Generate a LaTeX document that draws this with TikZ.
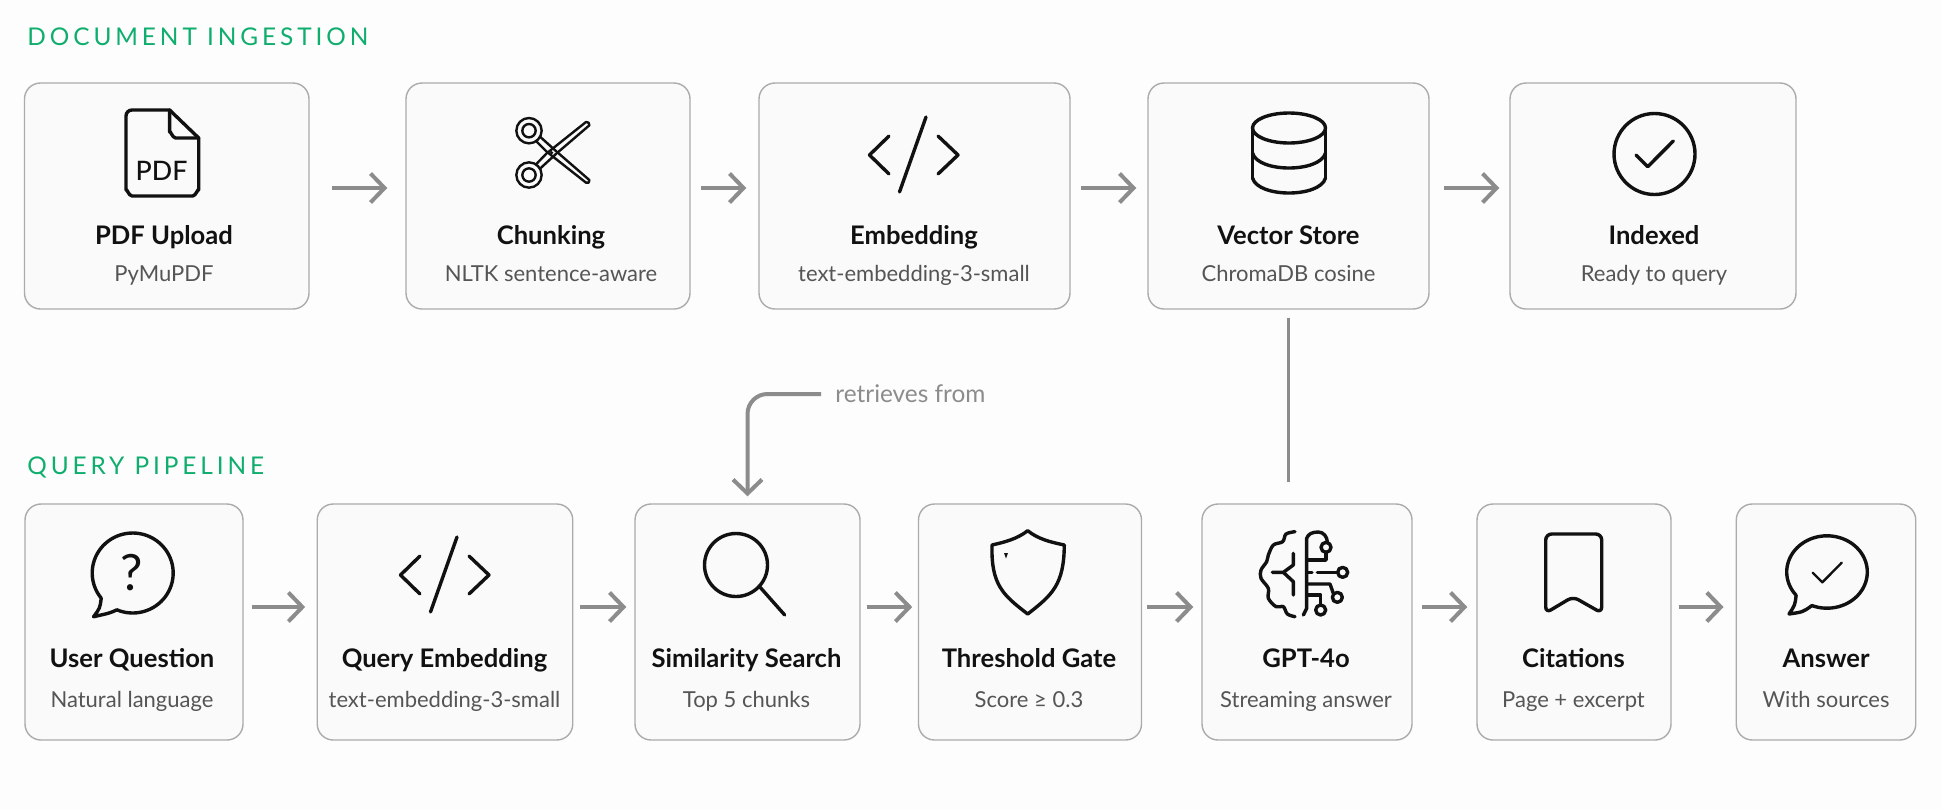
\documentclass[tikz,border=0pt]{standalone}
\usepackage{fontspec}
\usepackage{tikz}
\usetikzlibrary{positioning, arrows.meta, calc}
\setmainfont{Lato}
\newfontfamily\secfont[LetterSpace=16]{Lato}
\newfontfamily\medfont{Lato Medium}

\definecolor{pagebg}{HTML}{FDFDFD}
\definecolor{cardbg}{HTML}{FAFAFA}
\definecolor{cardline}{HTML}{ABABAB}
\definecolor{flowgray}{HTML}{8C8C8C}
\definecolor{secgreen}{HTML}{10AE6E}
\definecolor{inkblack}{HTML}{111111}
\definecolor{subgray}{HTML}{555555}

\tikzset{
    card/.style={draw=cardline, fill=cardbg, line width=0.7pt, rounded corners=8pt, inner sep=0pt},
    cardttl/.style={anchor=base, text=inkblack, font=\bfseries\fontsize{12.8}{15}\selectfont},
    cardsub/.style={anchor=base, text=subgray, font=\fontsize{11}{13}\selectfont},
    sectitle/.style={anchor=base west, inner sep=0pt, text=secgreen, font=\secfont\fontsize{12.2}{14}\selectfont},
    icon/.style={draw=inkblack, line width=1.7pt, line join=round, line cap=round},
    thinicon/.style={draw=inkblack, line width=1.2pt, line join=round, line cap=round},
    flow/.style={draw=flowgray, line width=2pt, -{Straight Barb[length=7pt,width=14.5pt]}},
    link/.style={draw=flowgray, line width=1.3pt},
    pics/codeicon/.style={code={
        \draw[icon] (12,-38) -- (-14.5,37);
        \draw[icon] (-25,-19) -- (-44.5,0) -- (-25,19);
        \draw[icon] (24,-19) -- (44,0) -- (24,19);
    }},
}

\begin{document}
\begin{tikzpicture}[x=0.5pt, y=-0.5pt]
    \useasboundingbox (0,0) rectangle (1942,809);
    \fill[pagebg] (0,0) rectangle (1942,809);

    % section headings
    \node[sectitle] (secdoc) at (27,45) {DOCUMENT INGESTION};
    \node[sectitle] (secquery) at (27,474) {QUERY PIPELINE};

    % top row
    \foreach \nm/\cx/\bw/\tx/\ttl/\lbl in {
        pdf/166.75/284.5/164/PDF Upload/PyMuPDF,
        chunk/548/284/551/Chunking/NLTK sentence-aware,
        embed/914.5/311/914/Embedding/text-embedding-3-small,
        vec/1288.5/281/1288.5/Vector Store/ChromaDB cosine,
        idx/1653/286/1654/Indexed/Ready to query} {
        \node[card, minimum width=\bw*0.5pt, minimum height=113pt] (\nm) at (\cx,196) {};
        \node[cardttl] (\nm ttl) at (\tx,244) {\ttl};
        \node[cardsub] (\nm sub) at (\tx,281) {\lbl};
    }

    % bottom row
    \foreach \nm/\cx/\bw/\tx/\ttl/\lbl in {
        user/134/218/132/User Question/Natural language,
        qemb/445/255.5/444.5/Query Embedding/text-embedding-3-small,
        sim/747.5/225/746.5/Similarity Search/Top 5 chunks,
        gate/1030/223/1029/Threshold Gate/Score ≥ 0.3,
        gpt/1307/210/1306/GPT-4o/Streaming answer,
        cite/1574/194/1573.5/Citations/Page + excerpt,
        ans/1826/179.5/1826/Answer/With sources} {
        \node[card, minimum width=\bw*0.5pt, minimum height=118pt] (\nm) at (\cx,622) {};
        \node[cardttl] (\nm ttl) at (\tx,667) {\ttl};
        \node[cardsub] (\nm sub) at (\tx,707) {\lbl};
    }

    % arrows along the top row
    \foreach \a/\b/\s/\e in {pdf/chunk/11/9, chunk/embed/5/6, embed/vec/5/5.5, vec/idx/7/5} {
        \draw[flow, shorten <=\s pt, shorten >=\e pt] ([yshift=4pt]\a.east) -- ([yshift=4pt]\b.west);
    }

    % arrows along the bottom row
    \foreach \a/\b/\s/\e in {user/qemb/4/5.7, qemb/sim/3.5/4, sim/gate/3/2.8, gate/gpt/2.5/4, gpt/cite/4.8/4.5, cite/ans/3.5/6} {
        \draw[flow, shorten <=\s pt, shorten >=\e pt] ([yshift=7.5pt]\a.east) -- ([yshift=7.5pt]\b.west);
    }

    % link between the rows
    \draw[link, shorten <=4pt, shorten >=10.5pt] (vec.south) -- (vec.south |- gpt.north);
    \node[anchor=west, inner sep=0pt, text=flowgray, font=\fontsize{12.2}{14}\selectfont] (retr) at (835,394) {retrieves from};
    \draw[flow, rounded corners=10pt, shorten <=7pt, shorten >=3.5pt] (retr.west) -| (sim.north);

    % pdf file
    \draw[icon] (169.6,110) -- (132,110) to[out=180,in=90] (126,116) -- (126,190)
        to[out=90,in=180] (132,196) -- (192.7,196)
        to[out=0,in=90] (198.7,190) -- (198.7,138) -- cycle;
    \draw[icon] (169.6,110) -- (169.6,132) to[out=90,in=180] (175.6,138) -- (198.7,138);
    \node[text=inkblack, font=\medfont\fontsize{13.4}{15}\selectfont] (pdftxt) at (161.6,171) {PDF};

    % scissors
    \begin{scope}[shift={(490,100)}, scale=1/3]
        \draw[thinicon] (117,92) circle[radius=38] (117,92) circle[radius=20];
        \draw[thinicon] (117,225) circle[radius=38] (117,225) circle[radius=20];
        \draw[thinicon] (150,110) -- (200,155) -- (298,240) -- (296,248) -- (288,248) -- (170,155) -- (140,125);
        \draw[thinicon] (150,206) -- (200,160) -- (298,76) -- (296,68) -- (288,66) -- (170,160) -- (140,191);
        \fill[inkblack] (185,158) circle[radius=5];
    \end{scope}

    % code
    \pic (embedicon) at (914,155) {codeicon};

    % database
    \draw[icon] (1289,128) ellipse[x radius=36.5, y radius=15];
    \draw[icon] (1252.5,128) -- (1252.5,178);
    \draw[icon] (1325.5,128) -- (1325.5,178);
    \draw[icon] (1252.5,153) .. controls (1258,173) and (1320,173) .. (1325.5,153);
    \draw[icon] (1252.5,178) .. controls (1258,198) and (1320,198) .. (1325.5,178);

    % check in circle
    \draw[icon] (1654.5,154) circle[radius=40.5];
    \draw[icon] (1636,155) -- (1647.7,166.7) -- (1673.3,141);

    % question bubble
    \draw[icon] plot[domain=141:473, samples=70] ({132.7+40.5*cos(\x)},{573+40*sin(\x)})
        .. controls (110,613) .. (93.6,616.7) .. controls (100,608) .. (101.2,598.2);
    \node[text=inkblack, font=\fontsize{25}{27}\selectfont] (qmark) at (132,573) {?};

    % code
    \pic (qembicon) at (445,575) {codeicon};

    % magnifier
    \draw[icon] (736,565) circle[radius=31.5];
    \draw[icon] (759,586) -- (784.7,615);

    % shield
    \draw[icon] (1027.7,530.7) .. controls (1038,539) and (1050,542) .. (1064.3,545)
        .. controls (1064,585) and (1052,595) .. (1027.7,614)
        .. controls (1003,595) and (991,585) .. (992,545)
        .. controls (1005,542) and (1017,539) .. cycle;
    \fill[inkblack] (1004,553) -- (1008,553) -- (1006,558.5) -- cycle;

    % brain
    \begin{scope}[shift={(1240,510)}, scale=1/3]
        \draw[icon] plot[smooth, tension=.55] coordinates {(165,65) (138,72) (128,95) (100,105) (85,135) (80,155) (63,180) (63,205) (85,235) (85,265) (108,290) (130,290) (142,312) (165,320)};
        \draw[icon] (160,130) -- (160,165) -- (130,187) -- (97,187);
        \draw[icon] (130,187) -- (160,215) -- (160,255);
        \draw[icon] (190,315) -- (200,295) -- (200,85) .. controls (205,72) and (215,66) .. (235,66) .. controls (250,66) and (262,80) .. (262,97);
        \draw[icon] (258,112) circle[radius=15];
        \draw[icon] (258,127) -- (258,150) -- (205,150);
        \draw[icon] (205,187) -- (216,187);
        \draw[icon] (232,187) -- (293,187);
        \draw[icon] (308,187) circle[radius=15];
        \draw[icon] (205,222) -- (270,222) -- (280,250);
        \draw[icon] (292,262) circle[radius=15];
        \draw[icon] (205,255) -- (242,255) -- (242,285);
        \draw[icon] (242,300) circle[radius=15];
    \end{scope}

    % bookmark
    \draw[icon, rounded corners=3pt] (1573,596.7) -- (1545.7,613) -- (1545.7,534) -- (1601.7,534)
        -- (1601.7,613) -- cycle;

    % answer bubble
    \draw[icon] plot[domain=140:472, samples=70] ({1827+40.3*cos(\x)},{572+36.2*sin(\x)})
        .. controls (1803,612) .. (1789,614) .. controls (1795,605) .. (1796.1,595.3);
    \draw[thinicon] (1812.7,572.7) -- (1822.3,582.3) -- (1841.7,562.7);
\end{tikzpicture}
\end{document}
